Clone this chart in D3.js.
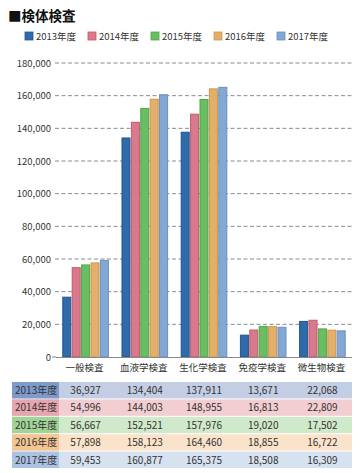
<!DOCTYPE html>
<html><head><meta charset="utf-8">
<script src="https://cdn.jsdelivr.net/npm/d3@7/dist/d3.min.js"></script>
<style>body{margin:0;background:#fff;}svg{display:block;font-family:"Noto Sans CJK JP","Noto Sans",sans-serif;}</style>
</head><body><svg id="c" width="360" height="473"></svg>
<script>
const categories = ["一般検査","血液学検査","生化学検査","免疫学検査","微生物検査"];
const years = ["2013年度","2014年度","2015年度","2016年度","2017年度"];
const v2013 = [36927,134404,137911,13671,22068];
const v2014 = [54996,144003,148955,16813,22809];
const v2015 = [56667,152521,157976,19020,17502];
const v2016 = [57898,158123,164460,18855,16722];
const v2017 = [59453,160877,165375,18508,16309];
const yTicks = [0,20000,40000,60000,80000,100000,120000,140000,160000,180000];
const series = [v2013,v2014,v2015,v2016,v2017];

const fill = ["#2f6aa9","#d87a8b","#6bbd63","#e2b06b","#84a8d4"];
const strokeC = ["#1f5594","#c4596c","#4ea647","#cf9549","#6890c4"];
const headBg = ["#7d9acb","#e6a5af","#a2d497","#f2c592","#abc2e2"];
const bodyBg = ["#c3cde4","#f2ced2","#d0e9ca","#fae3ca","#d7e2f1"];

const svg = d3.select("#c");
// title
svg.append("text").attr("x",8).attr("y",21).attr("font-size",13.5).attr("font-weight","bold").attr("fill","#111").text("■検体検査");
// legend
years.forEach((y,i)=>{
  const x = 25 + i*63;
  svg.append("rect").attr("x",x).attr("y",32).attr("width",8).attr("height",8).attr("fill",fill[i]).attr("stroke",strokeC[i]).attr("stroke-width",0.8);
  svg.append("text").attr("x",x+11).attr("y",40).attr("font-size",9.5).attr("fill","#333").text(y);
});

const yS = d3.scaleLinear().domain([0,180000]).range([357,63]);
const xS = d3.scaleBand().domain(categories).range([56,352]).paddingInner(0.2).paddingOuter(0.1);
const xI = d3.scaleBand().domain(d3.range(5)).range([0,xS.bandwidth()]).padding(0.04);

// grid
const g = svg.append("g");
yTicks.forEach(t=>{
  if(t>0) g.append("line").attr("x1",55).attr("x2",352).attr("y1",yS(t)).attr("y2",yS(t)).attr("stroke","#8a8a8a").attr("stroke-width",1).attr("stroke-dasharray","4,2.5");
  else g.append("line").attr("x1",52).attr("x2",56).attr("y1",yS(t)).attr("y2",yS(t)).attr("stroke","#888");
  g.append("text").attr("x",51).attr("y",yS(t)+3.5).attr("text-anchor","end").attr("font-size",9.5).attr("fill","#333").text(d3.format(",")(t));
});

// bars
categories.forEach((c,ci)=>{
  series.forEach((s,si)=>{
    const x = xS(c)+xI(si);
    svg.append("rect").attr("x",x+0.5).attr("y",yS(s[ci])+0.5).attr("width",xI.bandwidth()-1).attr("height",yS(0)-yS(s[ci])-0.5)
      .attr("fill",fill[si]).attr("stroke",strokeC[si]).attr("stroke-width",1);
  });
  svg.append("text").attr("x",xS(c)+xS.bandwidth()/2-1).attr("y",371).attr("text-anchor","middle").attr("font-size",9.5).attr("fill","#333").text(c);
});
// baseline
svg.append("line").attr("x1",56).attr("x2",352).attr("y1",357.5).attr("y2",357.5).attr("stroke","#888").attr("stroke-width",1);

// table
const tTop = 382, rh = 17.4, tx0 = 12, tx1 = 352, hw = 47;
years.forEach((y,i)=>{
  const ry = tTop + i*rh;
  svg.append("rect").attr("x",tx0).attr("y",ry).attr("width",tx1-tx0).attr("height",rh-1).attr("fill",bodyBg[i]);
  svg.append("rect").attr("x",tx0).attr("y",ry).attr("width",hw).attr("height",rh-1).attr("fill",headBg[i]);
  svg.append("text").attr("x",tx0+3).attr("y",ry+12).attr("font-size",10).attr("fill","#333").text(y);
  series[i].forEach((v,ci)=>{
    svg.append("text").attr("x",xS(categories[ci])+xS.bandwidth()/2).attr("y",ry+12).attr("text-anchor","middle").attr("font-size",10).attr("fill","#333").text(d3.format(",")(v));
  });
});
</script></body></html>
